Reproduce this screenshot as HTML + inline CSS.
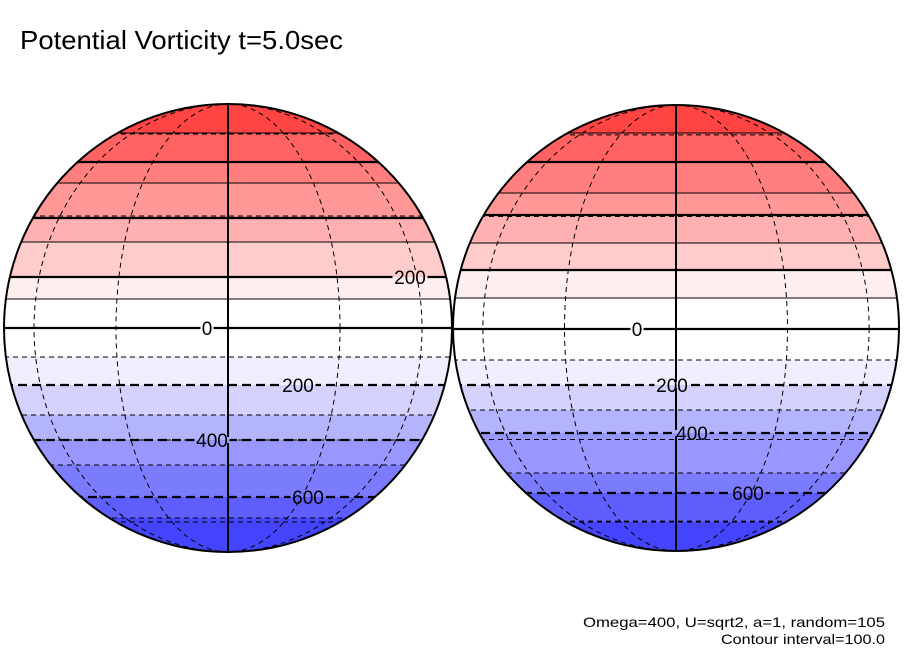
<!DOCTYPE html>
<html><head><meta charset="utf-8">
<style>
html,body{margin:0;padding:0;background:#fff;}
svg{display:block;}
text{font-family:"Liberation Sans",sans-serif;}
</style></head>
<body>
<svg id="chart" width="904" height="654" viewBox="0 0 904 654" xmlns="http://www.w3.org/2000/svg">
<text x="20" y="49" font-size="26" textLength="323" lengthAdjust="spacingAndGlyphs">Potential Vorticity t=5.0sec</text>
<text x="885" y="627" font-size="14" text-anchor="end" textLength="302" lengthAdjust="spacingAndGlyphs">Omega=400, U=sqrt2, a=1, random=105</text>
<text x="885" y="644" font-size="14" text-anchor="end" textLength="164" lengthAdjust="spacingAndGlyphs">Contour interval=100.0</text>
</svg>
<script>
// contour levels (top to bottom)
const levels = [700,600,500,400,300,200,100,0,-100,-200,-300,-400,-500,-600,-700];
// contour screen rows (left globe, right globe)
const contourYLeft  = [133,162,183,218,242,277,299,328,357,385,415,440,465,497,518];
const contourYRight = [133,162,193,215,243,270,298,329,360,385,410,433,473,493,522];
// band fill colours (band above first level ... band below last level)
const bandColors = ['#ff4444','#ff6262','#ff7f7f','#ff9797','#ffb1b1','#ffcccc','#ffeeee','#ffffff','#ffffff','#eeeefd','#d2d2fd','#b4b4fd','#9797fd','#7b7bfd','#5e5efd','#4444fd'];
// labels: [level, x-offset from center]
const labelsLeft  = [[200,182],[0,-21],[-200,70],[-400,-16],[-600,80]];
const labelsRight = [[0,-39],[-200,-4],[-400,16],[-600,72]];

const NS='http://www.w3.org/2000/svg';
const svg=document.getElementById('chart');
function mk(tag,attrs,parent){const e=document.createElementNS(NS,tag);for(const k in attrs)e.setAttribute(k,attrs[k]);(parent||svg).appendChild(e);return e;}

function globe(id,cx,cy,r,ys,labels){
  const g=mk('g',{});
  
  
  const cp=mk('clipPath',{id:id+'-clip'},g);
  mk('circle',{cx:cx,cy:cy,r:r},cp);
  const inner=mk('g',{'clip-path':'url(#'+id+'-clip)'},g);
  for(let i=0;i<bandColors.length;i++){
    const top=i===0?cy-r:ys[i-1];
    const bot=i===ys.length?cy+r:ys[i];
    const b=mk('rect',{x:cx-r,y:top,width:2*r,height:bot-top,fill:bandColors[i]},inner);
    
    
  }
  [30,60].forEach(lat=>{[1,-1].forEach(s=>{
    const y=cy-s*r*Math.sin(lat*Math.PI/180);
    const l=mk('line',{x1:cx-r,x2:cx+r,y1:y,y2:y,stroke:'#000','stroke-width':1,'stroke-dasharray':'5,4'},inner);
    
    
  });});
  [30,60].forEach(lon=>{
    const e=mk('ellipse',{cx:cx,cy:cy,rx:r*Math.sin(lon*Math.PI/180),ry:r,fill:'none',stroke:'#000','stroke-width':1,'stroke-dasharray':'5,4'},inner);
    
    
  });
  levels.forEach((lv,i)=>{
    const y=ys[i];
    const thick=(lv%200===0);
    const attrs={x1:cx-r,x2:cx+r,y1:y,y2:y,stroke:'#000','stroke-width':thick?2.2:1};
    if(lv<0)attrs['stroke-dasharray']=thick?'9,5':'5,4';
    const l=mk('line',attrs,inner);
    
    
  });
  const cm=mk('line',{x1:cx,x2:cx,y1:cy-r,y2:cy+r,stroke:'#000','stroke-width':2},inner);
  
  
  labels.forEach(([lv,dx])=>{
    const idx=levels.indexOf(lv);
    const y=ys[idx];
    const txt=String(Math.abs(lv));
    const w=txt.length*11;
    mk('rect',{x:cx+dx-w/2-1,y:y-3,width:w+2,height:3,fill:bandColors[idx]},inner);
    mk('rect',{x:cx+dx-w/2-1,y:y,width:w+2,height:3,fill:bandColors[idx+1]},inner);
    const t=mk('text',{x:cx+dx,y:y+7,'font-size':19,'text-anchor':'middle'},inner);
    t.textContent=txt;
    
    
  });
  const outline=mk('circle',{cx:cx,cy:cy,r:r,fill:'none',stroke:'#000','stroke-width':2},g);
  
  
}
globe('left-globe',228,328,224,contourYLeft,labelsLeft);
globe('right-globe',676,328,223,contourYRight,labelsRight);
</script>
</body></html>
